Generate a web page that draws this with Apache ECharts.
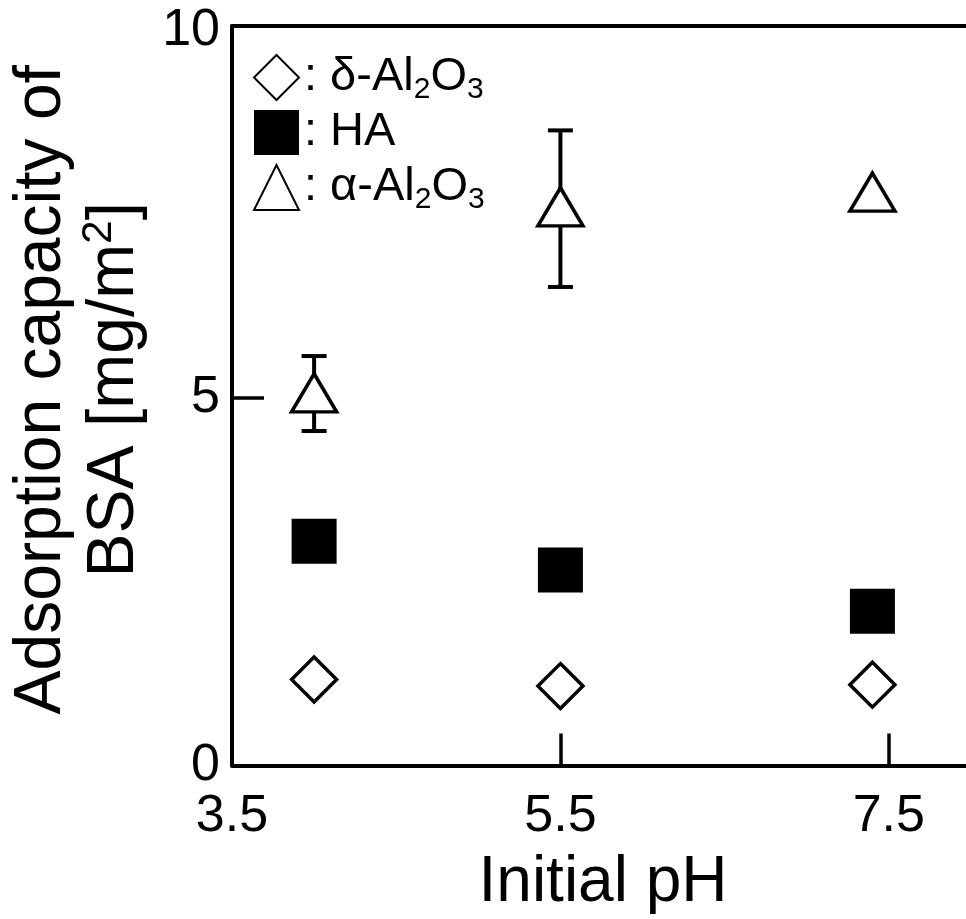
<!DOCTYPE html>
<html>
<head>
<meta charset="utf-8">
<script src="https://cdn.jsdelivr.net/npm/echarts@6/dist/echarts.min.js"></script>
<style>
  html, body { margin: 0; padding: 0; background: #fff; }
  #chart { width: 966px; height: 919px; }
</style>
</head>
<body>
<div id="chart"></div>
<script>
// initial pH of each measurement
var phValues = [4.0, 5.5, 7.4];
// adsorption capacity of BSA [mg/m2]
var deltaAl2O3 = [1.17, 1.08, 1.10];
var haValues = [3.05, 2.66, 2.10];
var alphaAl2O3 = [5.07, 7.60, 7.80];
// error range for alpha-Al2O3: [low, high], null = no bar
var alphaErrLow = [4.55, 6.51, null];
var alphaErrHigh = [5.57, 8.64, null];

var xTicks = [3.5, 5.5, 7.5];
var yLabels = [0, 5, 10];
var yTicks = [5];

var FONT = "Liberation Sans";

function pairs(ys) {
    return phValues.map(function(x, i) { return [x, ys[i]]; });
}

var errData = [];
phValues.forEach(function(x, i) {
    if (alphaErrLow[i] != null) errData.push([x, alphaErrLow[i], alphaErrHigh[i]]);
});

var chart = echarts.init(document.getElementById("chart"), null, { renderer: "canvas" });

var subStyle = { fontFamily: FONT, fontSize: 30, lineHeight: 25, verticalAlign: "bottom", color: "#000" };

var legendText = {
    "δ-Al2O3": ": δ-Al{sub|2}O{sub|3}",
    "HA": ": HA",
    "α-Al2O3": ": α-Al{sub|2}O{sub|3}"
};

var option = {
    backgroundColor: "#fff",
    animation: false,
    grid: { left: 232, right: 0, top: 26, bottom: 153.5, containLabel: false, outerBoundsMode: "none" },
    legend: {
        data: ["δ-Al2O3", "HA", "α-Al2O3"],
        orient: "vertical",
        left: 253,
        top: 50,
        padding: 0,
        itemGap: 0,
        itemWidth: 45,
        itemHeight: 45,
        selectedMode: false,
        formatter: function(name) { return legendText[name]; },
        textStyle: {
            fontFamily: FONT, fontSize: 47, lineHeight: 55, color: "#000",
            rich: { sub: subStyle }
        }
    },
    xAxis: [{
        type: "value",
        min: 3.5,
        max: 7.97,
        position: "bottom",
        name: "Initial pH",
        nameLocation: "middle",
        nameGap: 86,
        nameTextStyle: { fontFamily: FONT, fontSize: 64, color: "#000", padding: [0, 0, 0, 8] },
        axisLine: { show: true, onZero: false, lineStyle: { color: "#000", width: 4 } },
        axisTick: { show: true, inside: true, length: 32, customValues: xTicks,
            lineStyle: { color: "#000", width: 3.5 } },
        axisLabel: { show: true, customValues: xTicks, margin: 25,
            fontFamily: FONT, fontSize: 52, color: "#000" },
        splitLine: { show: false }
    }, {
        type: "value",
        min: 3.5,
        max: 7.97,
        position: "top",
        axisLine: { show: true, onZero: false, lineStyle: { color: "#000", width: 4 } },
        axisTick: { show: false },
        axisLabel: { show: false },
        splitLine: { show: false }
    }],
    yAxis: {
        type: "value",
        min: 0,
        max: 10.06,
        name: "{t|Adsorption capacity of}\n{t|BSA [mg/m}{sup|2}{t|]}",
        nameLocation: "middle",
        nameRotate: 90,
        nameGap: 66,
        nameTextStyle: {
            fontFamily: FONT, fontSize: 66, lineHeight: 73, color: "#000",
            padding: [0, 0, 0, 12],
            rich: {
                t: { fontFamily: FONT, fontSize: 66, lineHeight: 73, color: "#000" },
                sup: { fontFamily: FONT, fontSize: 42, lineHeight: 46, verticalAlign: "top", color: "#000" }
            }
        },
        axisLine: { show: true, onZero: false, lineStyle: { color: "#000", width: 4 } },
        axisTick: { show: true, inside: true, length: 32, customValues: yTicks,
            lineStyle: { color: "#000", width: 3.5 } },
        axisLabel: { show: true, customValues: yLabels, margin: 12, padding: [9, 0, 0, 0],
            fontFamily: FONT, fontSize: 52, color: "#000" },
        splitLine: { show: false }
    },
    series: [{
        name: "err",
        type: "custom",
        z: 1,
        data: errData,
        renderItem: function(params, api) {
            var x = api.value(0);
            var lo = api.coord([x, api.value(1)]);
            var hi = api.coord([x, api.value(2)]);
            var hw = 12.5;
            var st = { stroke: "#000", lineWidth: 4 };
            return {
                type: "group",
                children: [
                    { type: "line", shape: { x1: hi[0], y1: hi[1], x2: lo[0], y2: lo[1] }, style: st },
                    { type: "line", shape: { x1: hi[0] - hw, y1: hi[1], x2: hi[0] + hw, y2: hi[1] }, style: st },
                    { type: "line", shape: { x1: lo[0] - hw, y1: lo[1], x2: lo[0] + hw, y2: lo[1] }, style: st }
                ]
            };
        }
    }, {
        name: "δ-Al2O3",
        type: "scatter",
        z: 3,
        symbol: "diamond",
        symbolSize: [45, 45],
        itemStyle: { color: "#fff", borderColor: "#000", borderWidth: 3.5, opacity: 1 },
        data: pairs(deltaAl2O3)
    }, {
        name: "HA",
        type: "scatter",
        z: 3,
        symbol: "rect",
        symbolSize: [45, 45],
        itemStyle: { color: "#000", borderColor: "#000", borderWidth: 0, opacity: 1 },
        data: pairs(haValues)
    }, {
        name: "α-Al2O3",
        type: "scatter",
        z: 3,
        symbol: "triangle",
        symbolSize: [45, 38],
        itemStyle: { color: "#fff", borderColor: "#000", borderWidth: 3.5, opacity: 1 },
        data: pairs(alphaAl2O3)
    }]
};

chart.setOption(option);
</script>
</body>
</html>
